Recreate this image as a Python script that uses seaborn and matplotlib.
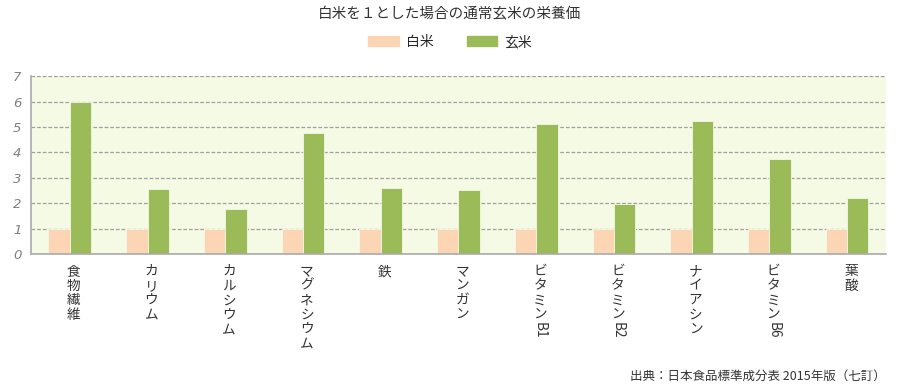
import numpy as np
import pandas as pd
import matplotlib.pyplot as plt
import seaborn as sns

# data
nutrients = ["食物繊維", "カリウム", "カルシウム", "マグネシウム", "鉄", "マンガン",
             "ビタミンB1", "ビタミンB2", "ナイアシン", "ビタミンB6", "葉酸"]
hakumai = [1, 1, 1, 1, 1, 1, 1, 1, 1, 1, 1]
genmai = [6.0, 2.55, 1.78, 4.76, 2.6, 2.52, 5.1, 1.98, 5.23, 3.75, 2.22]
series_names = ["白米", "玄米"]
colors = ["#FCD5B5", "#9BBB59"]

df = pd.DataFrame({
    "nutrient": nutrients * 2,
    "rice": [series_names[0]] * len(nutrients) + [series_names[1]] * len(nutrients),
    "ratio": hakumai + genmai,
})

sns.set_theme(style="white")
plt.rcParams["font.family"] = ["Noto Sans CJK JP", "DejaVu Sans"]

fig = plt.figure(figsize=(9, 3.9), dpi=100)
ax = fig.add_axes([0.0344, 0.348, 0.95, 0.457])
ax.set_facecolor("#F5FAE4")

sns.barplot(data=df, x="nutrient", y="ratio", hue="rice", palette=colors, saturation=1,
            width=0.55, gap=0, legend=False, edgecolor="#F3F8E8", linewidth=0.6, ax=ax)

ax.set_xlim(-0.5, len(nutrients) - 0.5)
ax.set_ylim(0, 7)
ax.set_xlabel("")
ax.set_ylabel("")

# y axis
ax.set_yticks(range(0, 8))
ax.set_yticklabels([str(i) for i in range(0, 8)], family="DejaVu Sans", style="italic",
                   fontsize=9.5, color="#808080")
ax.tick_params(axis="y", length=3, color="#aaaaaa", pad=4)
ax.yaxis.grid(True, linestyle=(0, (3, 1.5)), color="#a0a0a0", linewidth=0.9)
ax.set_axisbelow(True)

# x axis: ticks between categories, labels drawn by hand
ax.set_xticks(np.arange(-0.5, len(nutrients), 1))
ax.set_xticklabels([])
ax.tick_params(axis="x", length=4, color="#aaaaaa", direction="out")

for s in ["top", "right"]:
    ax.spines[s].set_visible(False)
for s in ["left", "bottom"]:
    ax.spines[s].set_color("#aaaaaa")
    ax.spines[s].set_linewidth(1.2)

# vertical (tategaki) category labels
trans = ax.get_xaxis_transform()
for i, name in enumerate(nutrients):
    jp = name.rstrip("B0123456789")
    latin = name[len(jp):]
    t = ax.text(i + 0.05, -0.055, "\n".join(jp), transform=trans, ha="center", va="top",
                fontsize=9.8, color="#333333", linespacing=1.05)
    if latin:
        ax.annotate(latin, xy=(0.5, 0), xycoords=t, xytext=(0, -0.5), textcoords="offset points",
                    ha="center", va="top", rotation=270, fontsize=9.8, color="#333333")

# title, legend, source
fig.text(0.5, 0.963, "白米を１とした場合の通常玄米の栄養価", ha="center", va="center",
         fontsize=10.5, color="#333333")
handles = [plt.Rectangle((0, 0), 1, 1, color=c) for c in colors]
fig.legend(handles, series_names, loc="center", bbox_to_anchor=(0.5, 0.892), ncol=2,
           frameon=False, fontsize=10, handlelength=2.2, handleheight=0.7,
           handletextpad=0.5, columnspacing=2.4)
fig.text(0.984, 0.035, "出典：日本食品標準成分表 2015年版（七訂）", ha="right", va="center",
         fontsize=9, color="#333333")

fig.savefig("out.png", dpi=100)
